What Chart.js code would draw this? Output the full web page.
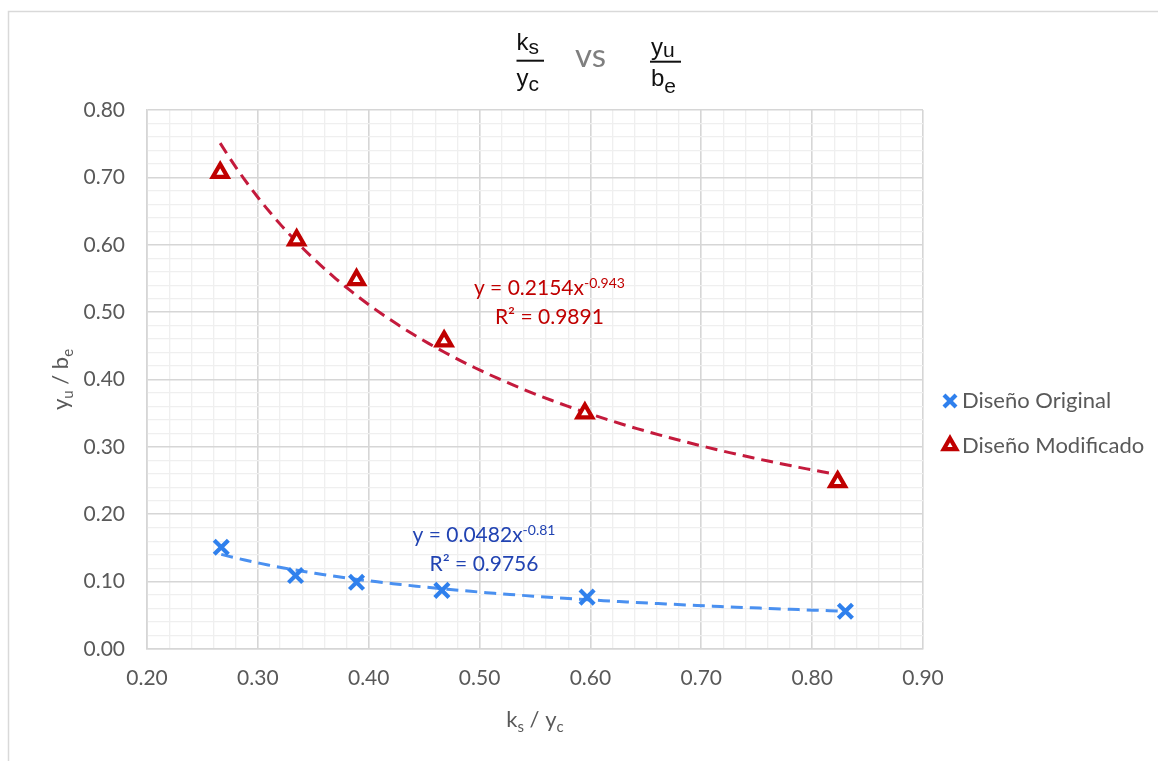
<!DOCTYPE html>
<html>
<head>
<meta charset="utf-8">
<script src="https://cdn.jsdelivr.net/npm/chart.js@4.4.1/dist/chart.umd.min.js"></script>
<style>
  html, body { margin: 0; padding: 0; background: #fff; }
  canvas { display: block; }
</style>
</head>
<body>
<canvas id="chart" width="1158" height="761"></canvas>
<script>
// Measured ratios ks/yc (x) and yu/be (y) for both designs
const xOriginal   = [0.267, 0.334, 0.389, 0.466, 0.597, 0.830];
const yOriginal   = [0.151, 0.109, 0.099, 0.087, 0.077, 0.056];
const xModificado = [0.266, 0.335, 0.389, 0.468, 0.595, 0.823];
const yModificado = [0.707, 0.607, 0.548, 0.457, 0.350, 0.248];

// Power trendlines y = a * x^b, with their coefficients of determination
const fitOriginal   = [0.0482, -0.81];
const fitModificado = [0.2154, -0.943];
const r2Original    = '0.9756';
const r2Modificado  = '0.9891';

// Axis tick labels (major divisions)
const xTickLabels = ['0.20', '0.30', '0.40', '0.50', '0.60', '0.70', '0.80', '0.90'];
const yTickLabels = ['0.00', '0.10', '0.20', '0.30', '0.40', '0.50', '0.60', '0.70', '0.80'];

const seriesNames = ['Diseño Original', 'Diseño Modificado'];

// ---------------------------------------------------------------------------
const FONT = 'Lato, "Open Sans", sans-serif';
const TITLE_FONT = '"Liberation Sans", Arial, sans-serif';
const TXT = '#595959';
const MAJOR = '#D6D6D6';
const MINOR = '#EFEFEF';
const BLUE = '#2F80ED';
const BLUE_TREND = '#4A90F0';
const RED = '#C00000';
const RED_TREND = '#C41A3C';

const toPoints = (xs, ys) => xs.map((x, i) => ({ x, y: ys[i] }));

// samples the stated power-law trendline over the range of its series
function trendCurve(fit, xs) {
  const lo = Math.min(...xs), hi = Math.max(...xs), n = 80;
  const pts = [];
  for (let i = 0; i <= n; i++) {
    const x = lo + (hi - lo) * i / n;
    pts.push({ x, y: fit[0] * Math.pow(x, fit[1]) });
  }
  return pts;
}

const isMajor = v => Math.round(v * 100) % 10 === 0;

// draws a run of text pieces (normal, sub- and superscript) left to right
function drawRuns(ctx, runs, x, y, align) {
  let total = 0;
  runs.forEach(r => {
    ctx.font = `${r.size}px ${r.family || FONT}`;
    r.w = ctx.measureText(r.t).width;
    total += r.w;
  });
  let cx = align === 'center' ? x - total / 2 : x;
  ctx.textAlign = 'left';
  ctx.textBaseline = 'alphabetic';
  runs.forEach(r => {
    ctx.font = `${r.size}px ${r.family || FONT}`;
    ctx.fillText(r.t, cx, y + (r.dy || 0));
    cx += r.w;
  });
}

const decorations = {
  id: 'decorations',
  beforeDraw(chart) {
    const { ctx, width, height } = chart;
    ctx.save();
    ctx.fillStyle = '#fff';
    ctx.fillRect(0, 0, width, height);
    // chart frame
    ctx.strokeStyle = '#D9D9D9';
    ctx.lineWidth = 1.5;
    ctx.beginPath();
    ctx.moveTo(8.5, height);
    ctx.lineTo(8.5, 11.5);
    ctx.lineTo(width, 11.5);
    ctx.stroke();
    ctx.restore();
  },
  afterDraw(chart) {
    const { ctx, chartArea: area, scales } = chart;
    const sx = scales.x, sy = scales.y;
    ctx.save();

    // title: ks/yc  vs  yu/be
    ctx.fillStyle = '#111';
    const T = 24, S = 21;
    drawRuns(ctx, [{ t: 'k', size: T, family: TITLE_FONT }, { t: 's', size: S, dy: 4, family: TITLE_FONT }], 516.5, 49.5);
    drawRuns(ctx, [{ t: 'y', size: T, family: TITLE_FONT }, { t: 'c', size: S, dy: 5, family: TITLE_FONT }], 516.5, 85.5);
    ctx.fillRect(516.5, 59.7, 27.5, 2);
    drawRuns(ctx, [{ t: 'y', size: T, family: TITLE_FONT }, { t: 'u', size: S, dy: 2, family: TITLE_FONT }], 651, 55);
    drawRuns(ctx, [{ t: 'b', size: T, family: TITLE_FONT }, { t: 'e', size: S, dy: 7, family: TITLE_FONT }], 651, 85.5);
    ctx.fillRect(650, 60.7, 31, 2);
    ctx.fillStyle = '#7F7F7F';
    drawRuns(ctx, [{ t: 'vs', size: 33 }], 575, 66.5);

    // axis titles
    ctx.fillStyle = TXT;
    drawRuns(ctx, [
      { t: 'k', size: 22 }, { t: 's', size: 15, dy: 5 },
      { t: ' / y', size: 22 }, { t: 'c', size: 15, dy: 5 }
    ], (area.left + area.right) / 2, 727, 'center');
    ctx.save();
    ctx.translate(68, (area.top + area.bottom) / 2);
    ctx.rotate(-Math.PI / 2);
    drawRuns(ctx, [
      { t: 'y', size: 22 }, { t: 'u', size: 15, dy: 5 },
      { t: ' / b', size: 22 }, { t: 'e', size: 15, dy: 5 }
    ], 0, 0, 'center');
    ctx.restore();

    // trendline equations
    const eq = (fit, r2, color, cxVal, yVal) => {
      const cx = sx.getPixelForValue(cxVal), by = sy.getPixelForValue(yVal);
      ctx.fillStyle = color;
      drawRuns(ctx, [
        { t: `y = ${fit[0]}x`, size: 21 },
        { t: String(fit[1]), size: 14, dy: -7 }
      ], cx, by, 'center');
      drawRuns(ctx, [{ t: `R² = ${r2}`, size: 21 }], cx, by + 29, 'center');
    };
    eq(fitModificado, r2Modificado, RED, 0.563, 0.525);
    eq(fitOriginal, r2Original, '#2143B2', 0.504, 0.159);

    // legend
    const helpers = Chart.helpers;
    const items = [chart.data.datasets[0], chart.data.datasets[1]];
    items.forEach((ds, i) => {
      const y = 401 + i * 44.5;
      ctx.lineWidth = ds.pointBorderWidth;
      ctx.strokeStyle = ds.pointBorderColor;
      ctx.fillStyle = ds.pointBackgroundColor;
      helpers.drawPoint(ctx, {
        pointStyle: ds.pointStyle, radius: ds.pointRadius * 0.85,
        borderWidth: ds.pointBorderWidth, rotation: 0
      }, 950, y);
      ctx.fillStyle = TXT;
      ctx.font = `22px ${FONT}`;
      ctx.textAlign = 'left';
      ctx.textBaseline = 'middle';
      ctx.fillText(ds.label, 962, y);
    });
    ctx.restore();
  }
};

const axisTicks = labels => ({
  stepSize: 0.02,
  autoSkip: false,
  maxRotation: 0,
  color: TXT,
  font: { family: FONT, size: 21 },
  callback: v => isMajor(v) ? labels[Math.round((v - (labels === xTickLabels ? 0.2 : 0)) * 10)] : ''
});
const gridOpts = {
  color: c => isMajor(c.tick.value) ? MAJOR : MINOR,
  lineWidth: c => isMajor(c.tick.value) ? 1.6 : 1.3,
  drawTicks: false
};

new Chart(document.getElementById('chart'), {
  type: 'scatter',
  data: {
    datasets: [
      {
        label: seriesNames[0],
        data: toPoints(xOriginal, yOriginal),
        pointStyle: 'crossRot', pointRadius: 10, pointBorderWidth: 4.2,
        pointBorderColor: BLUE, pointBackgroundColor: BLUE,
        order: 0
      },
      {
        label: seriesNames[1],
        data: toPoints(xModificado, yModificado),
        pointStyle: 'triangle', pointRadius: 8.5, pointBorderWidth: 4.2,
        pointBorderColor: RED, pointBackgroundColor: '#fff',
        order: 0
      },
      {
        label: 'Potencial (Diseño Original)',
        data: trendCurve(fitOriginal, xOriginal),
        showLine: true, pointRadius: 0, borderColor: BLUE_TREND,
        borderWidth: 3, borderDash: [12, 7], order: 1
      },
      {
        label: 'Potencial (Diseño Modificado)',
        data: trendCurve(fitModificado, xModificado),
        showLine: true, pointRadius: 0, borderColor: RED_TREND,
        borderWidth: 3, borderDash: [12, 7], order: 1
      }
    ]
  },
  options: {
    responsive: false,
    animation: false,
    events: [],
    devicePixelRatio: 1,
    layout: { padding: { left: 0, top: 110, right: 235, bottom: 0 } },
    plugins: { legend: { display: false }, tooltip: { enabled: false }, title: { display: false } },
    scales: {
      x: {
        type: 'linear', min: 0.2, max: 0.9,
        afterFit: s => { s.height = 112; },
        ticks: Object.assign(axisTicks(xTickLabels), { padding: 17 }),
        grid: gridOpts,
        border: { color: MAJOR, width: 1.6 }
      },
      y: {
        type: 'linear', min: 0, max: 0.8,
        afterFit: s => { s.width = 147; },
        ticks: Object.assign(axisTicks(yTickLabels), { padding: 22 }),
        grid: gridOpts,
        border: { color: MAJOR, width: 1.6 }
      }
    }
  },
  plugins: [decorations]
});
</script>
</body>
</html>
